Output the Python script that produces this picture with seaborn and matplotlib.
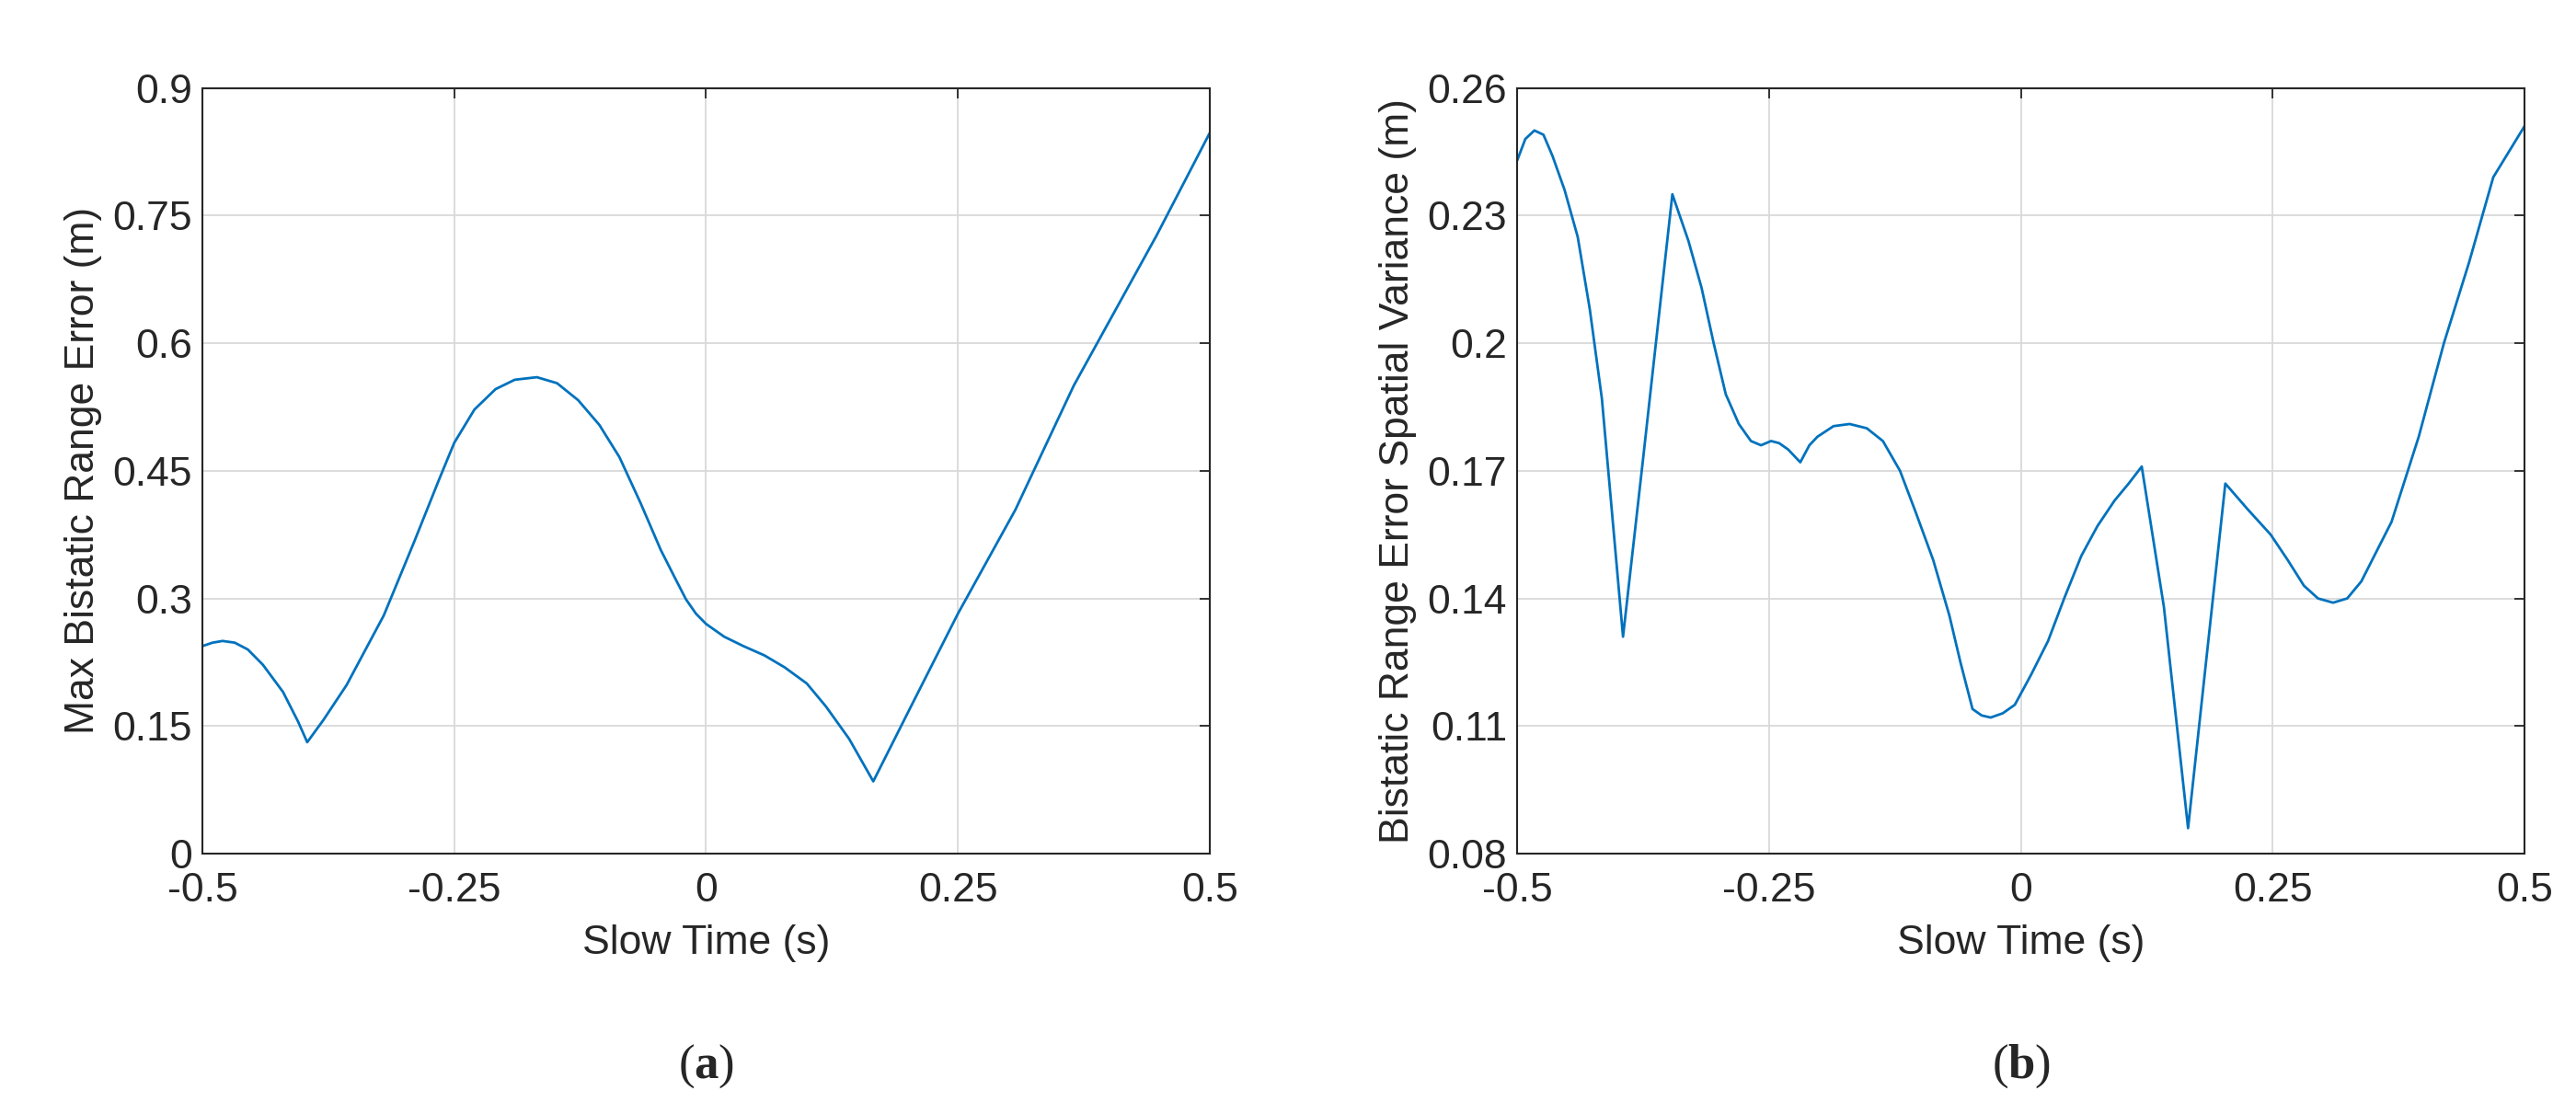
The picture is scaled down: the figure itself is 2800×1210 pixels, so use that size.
import matplotlib
matplotlib.use("Agg")
import matplotlib.pyplot as plt
import seaborn as sns
import pandas as pd

a_t = [-0.5,-0.49,-0.48,-0.468,-0.455,-0.44,-0.42,-0.405,-0.396,-0.38,-0.357,-0.32,-0.29,-0.265,-0.25,-0.23,-0.209,-0.19,-0.168,-0.148,-0.127,-0.106,-0.086,-0.065,-0.045,-0.03,-0.02,-0.01,0.0,0.018,0.037,0.058,0.078,0.1,0.119,0.142,0.166,0.2,0.25,0.307,0.365,0.447,0.5]
a_v = [0.244,0.248,0.25,0.248,0.24,0.222,0.19,0.155,0.131,0.157,0.198,0.28,0.366,0.44,0.483,0.522,0.546,0.557,0.56,0.553,0.533,0.504,0.466,0.412,0.357,0.322,0.299,0.282,0.27,0.255,0.244,0.233,0.219,0.2,0.173,0.135,0.085,0.165,0.282,0.404,0.55,0.726,0.847]
b_t = [-0.5,-0.492,-0.483,-0.474,-0.465,-0.453,-0.44,-0.428,-0.416,-0.395,-0.375,-0.346,-0.33,-0.317,-0.305,-0.293,-0.28,-0.268,-0.258,-0.248,-0.24,-0.231,-0.219,-0.21,-0.202,-0.186,-0.170,-0.153,-0.137,-0.12,-0.104,-0.087,-0.071,-0.06,-0.048,-0.039,-0.030,-0.018,-0.006,0.01,0.027,0.043,0.060,0.076,0.093,0.107,0.120,0.142,0.166,0.203,0.225,0.248,0.265,0.281,0.295,0.310,0.324,0.338,0.353,0.368,0.395,0.420,0.445,0.469,0.5]
b_v = [0.243,0.248,0.250,0.249,0.244,0.236,0.225,0.208,0.187,0.131,0.173,0.235,0.224,0.213,0.200,0.188,0.181,0.177,0.176,0.177,0.1765,0.175,0.172,0.176,0.178,0.1805,0.181,0.180,0.177,0.170,0.160,0.149,0.136,0.125,0.114,0.1125,0.112,0.113,0.115,0.122,0.130,0.140,0.150,0.157,0.163,0.167,0.171,0.138,0.086,0.167,0.161,0.155,0.149,0.143,0.140,0.139,0.140,0.144,0.151,0.158,0.178,0.200,0.219,0.239,0.251]
x_ticks = [-0.5,-0.25,0,0.25,0.5]
x_labels = ["-0.5","-0.25","0","0.25","0.5"]
a_ticks = [0,0.15,0.3,0.45,0.6,0.75,0.9]
a_labels = ["0","0.15","0.3","0.45","0.6","0.75","0.9"]
b_ticks = [0.08,0.11,0.14,0.17,0.2,0.23,0.26]
b_labels = ["0.08","0.11","0.14","0.17","0.2","0.23","0.26"]

sns.set_theme(style="white")
plt.rcParams['font.family'] = ['Liberation Sans', 'DejaVu Sans']
plt.rcParams['mathtext.fontset'] = 'custom'
plt.rcParams['mathtext.bf'] = 'Liberation Serif:bold'
plt.rcParams['mathtext.rm'] = 'Liberation Serif'

fig = plt.figure(figsize=(28, 12.1), dpi=100)
axA = fig.add_axes([0.0786, 0.233, 0.391, 0.688])
axB = fig.add_axes([0.589, 0.233, 0.391, 0.688])

panels = [
    (axA, a_t, a_v, a_ticks, a_labels, "Max Bistatic Range Error (m)", "a"),
    (axB, b_t, b_v, b_ticks, b_labels, "Bistatic Range Error Spatial Variance (m)", "b"),
]
for ax, t, v, yt, yl, ylab, cap in panels:
    df = pd.DataFrame({"t": t, "v": v})
    sns.lineplot(data=df, x="t", y="v", ax=ax, color="#0072BD", linewidth=2)
    ax.set_xlim(-0.5, 0.5)
    ax.set_ylim(yt[0], yt[-1])
    ax.set_xticks(x_ticks)
    ax.set_xticklabels(x_labels)
    ax.set_yticks(yt)
    ax.set_yticklabels(yl)
    ax.grid(True, color="#d9d9d9", linewidth=1.3)
    ax.tick_params(direction="in", length=8, width=1.3, labelsize=32, colors="#262626",
                   top=True, right=True)
    ax.tick_params(axis="x", pad=14)
    ax.tick_params(axis="y", pad=8)
    for s in ax.spines.values():
        s.set_color("#262626"); s.set_linewidth(1.5)
    ax.set_xlabel("Slow Time (s)", fontsize=32, color="#262626", labelpad=12)
    ax.set_ylabel(ylab, fontsize=32, color="#262626", labelpad=8)
    pos = ax.get_position()
    fig.text(pos.x0 + pos.width/2, 0.042, "(" + r"$\mathbf{" + cap + "}$" + ")",
             fontsize=38, family="Liberation Serif", ha="center", va="center")

fig.savefig("out.png", dpi=100)
